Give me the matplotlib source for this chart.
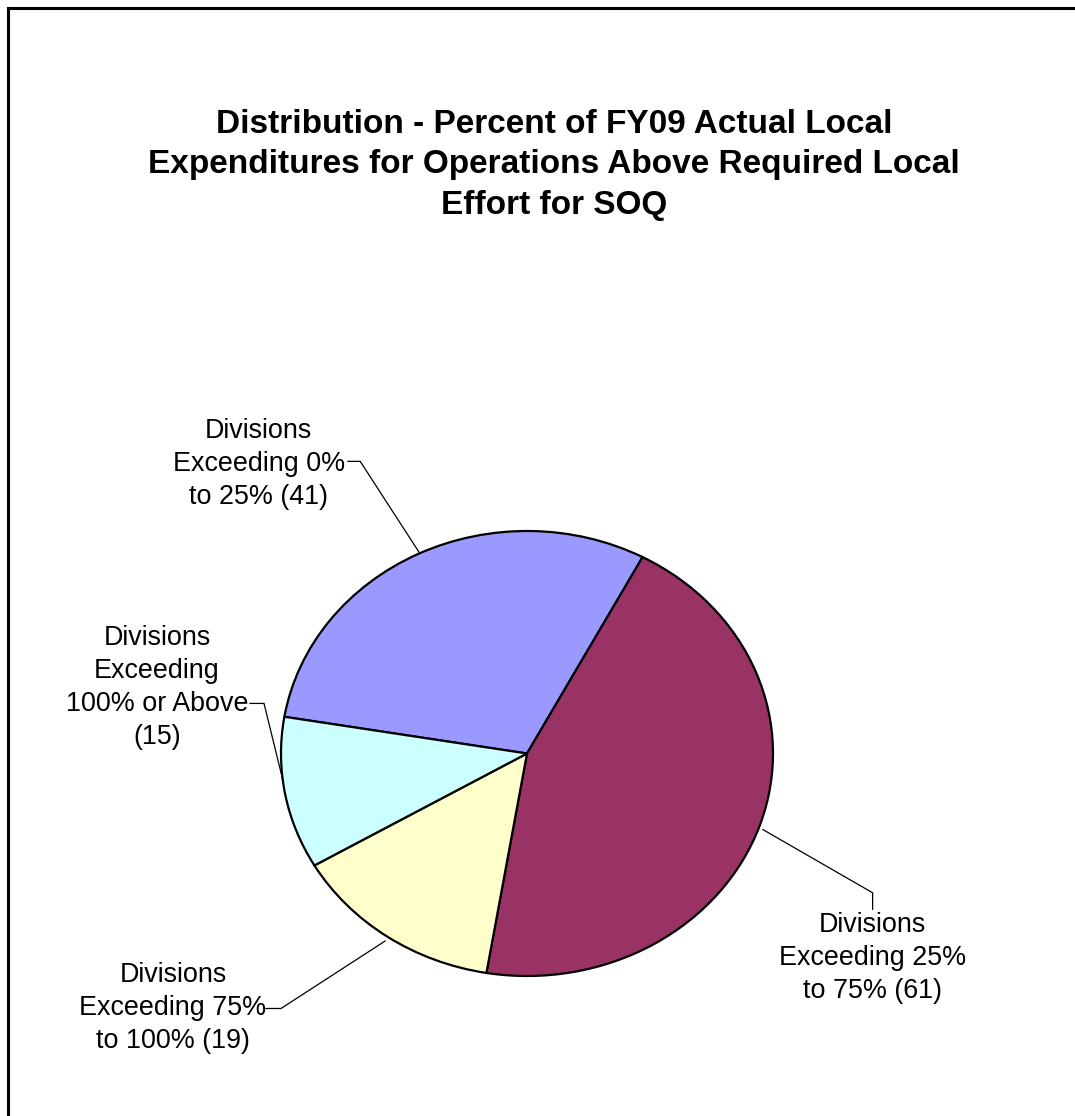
import matplotlib.pyplot as plt

categories = ['Divisions\nExceeding 0%\nto 25% (41)',
              'Divisions\nExceeding 25%\nto 75% (61)',
              'Divisions\nExceeding 75%\nto 100% (19)',
              'Divisions\nExceeding\n100% or Above\n(15)']
counts = [41, 61, 19, 15]
colors = ['#9999FF', '#993366', '#FFFFCC', '#CCFFFF']

# label placement (data coords of the pie axes), leader elbow and tip
label_xy = [(-1.091, 1.30), (1.405, -0.919), (-1.439, -1.145), (-1.504, 0.297)]
elbow_xy = [(-0.678, 1.313), (1.405, -0.626), (-1.0, -1.146), (-1.069, 0.225)]
knee_xy = [(-0.728, 1.313), (1.405, -0.70), (-1.061, -1.146), (-1.126, 0.225)]
tip_xy = [(-0.439, 0.905), (0.959, -0.342), (-0.577, -0.843), (-0.992, -0.122)]

W, H = 1075, 1116
fig = plt.figure(figsize=(W / 100, H / 100), dpi=100)
plt.rcParams['font.family'] = ['Liberation Sans', 'DejaVu Sans']

# figure border (cut at right and bottom like the original)
fig.patches.append(plt.Rectangle((8 / W, -0.1), 1.2, (1108 / H) + 0.1, transform=fig.transFigure,
                                 fill=False, edgecolor='black', linewidth=2.2))

fig.text(554 / W, 1 - 165 / H,
         'Distribution - Percent of FY09 Actual Local\nExpenditures for Operations Above Required Local\nEffort for SOQ',
         ha='center', va='center', fontsize=24, fontweight='bold', linespacing=1.39)

cx, cy, rx, ry = 527, 753.5, 246, 222.5
ax = fig.add_axes([(cx - rx) / W, 1 - (cy + ry) / H, 2 * rx / W, 2 * ry / H])
wedges, _ = ax.pie(counts, colors=colors, startangle=170.5, counterclock=False,
                   wedgeprops=dict(edgecolor='black', linewidth=1.6))
ax.set_aspect('auto')
ax.set_xlim(-1, 1)
ax.set_ylim(-1, 1)

for i, lab in enumerate(categories):
    ax.text(label_xy[i][0], label_xy[i][1], lab, ha='center', va='center',
            fontsize=19.4, linespacing=1.36)
    xs = [knee_xy[i][0], elbow_xy[i][0], tip_xy[i][0]]
    ys = [knee_xy[i][1], elbow_xy[i][1], tip_xy[i][1]]
    ax.plot(xs, ys, color='black', linewidth=0.9, clip_on=False)

fig.savefig('out.png', dpi=100)
